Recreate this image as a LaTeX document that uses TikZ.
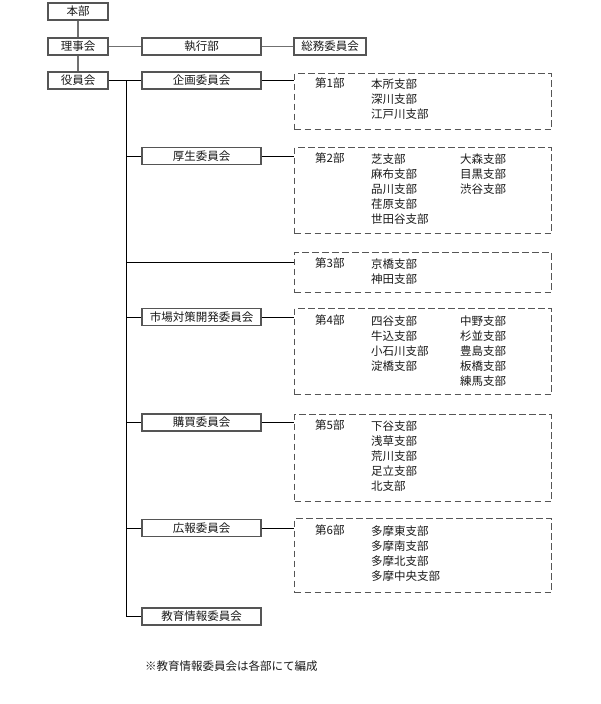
\documentclass[tikz,border=0pt]{standalone}
\usepackage{fontspec}
\setmainfont{Noto Sans CJK JP}
\definecolor{boxgray}{HTML}{555555}
\definecolor{linegray}{HTML}{707070}
\definecolor{txt}{HTML}{1A1A1A}
\begin{document}
\begin{tikzpicture}[x=1pt,y=-1pt,
  every node/.style={font=\fontsize{11.5}{15}\selectfont, text=txt},
  org/.style={draw=boxgray, line width=1.4pt, minimum height=17pt, inner sep=0pt, fill=white},
  dbox/.style={draw=boxgray, line width=1.3pt, dash pattern=on 6.5pt off 3.5pt, inner sep=0pt, anchor=north west},
  toplink/.style={draw=linegray, line width=1.8pt},
  link/.style={draw=black, line width=1pt},
  lbl/.style={anchor=west, inner sep=0pt},
  col/.style={anchor=north west, inner sep=0pt, align=left}
]
\useasboundingbox (0,0) rectangle (600,704);

% top level
\node[org, minimum width=60pt]  (honbu)  at (78,11.5) {本部};
\node[org, minimum width=60pt]  (riji)   at (78,46.5) {理事会};
\node[org, minimum width=119pt] (shikko) at (201.5,46.5) {執行部};
\node[org, minimum width=72pt]  (somu)   at (330,46.5) {総務委員会};
\node[org, minimum width=60pt]  (yakuin) at (78,80.5) {役員会};

\draw[toplink] (honbu.south) -- (riji.north);
\draw[toplink] (riji.south) -- (yakuin.north);
\draw[toplink] (riji.east) -- (shikko.west);
\draw[toplink] (shikko.east) -- (somu.west);

% committees
\node[org, minimum width=119pt] (kikaku) at (201.5,80.5) {企画委員会};
\node[org, minimum width=119pt] (kosei)  at (201.5,156) {厚生委員会};
\node[org, minimum width=119pt] (shijo)  at (201.5,317) {市場対策開発委員会};
\node[org, minimum width=119pt] (kobai)  at (201.5,422.5) {購買委員会};
\node[org, minimum width=119pt] (koho)   at (201.5,528) {広報委員会};
\node[org, minimum width=119pt] (kyoiku) at (201.5,616.5) {教育情報委員会};

% dashed district boxes
\node[dbox, minimum width=257pt, minimum height=56pt] (d1) at (294,73) {};
\node[dbox, minimum width=257pt, minimum height=86pt] (d2) at (294,147) {};
\node[dbox, minimum width=257pt, minimum height=40pt] (d3) at (294,252) {};
\node[dbox, minimum width=257pt, minimum height=86pt] (d4) at (294,308) {};
\node[dbox, minimum width=257pt, minimum height=87pt] (d5) at (294,414) {};
\node[dbox, minimum width=257pt, minimum height=74pt] (d6) at (294,518) {};

% trunk
\coordinate (trunk) at (126,0);
\coordinate (c3) at (126,262);
\draw[link] (yakuin.east) -- (kikaku.west);
\draw[link] (trunk |- yakuin.east) -- (trunk |- kyoiku.west);
\draw[link] (trunk |- kosei.west) -- (kosei.west);
\draw[link] (trunk |- shijo.west) -- (shijo.west);
\draw[link] (trunk |- kobai.west) -- (kobai.west);
\draw[link] (trunk |- koho.west) -- (koho.west);
\draw[link] (trunk |- kyoiku.west) -- (kyoiku.west);
\draw[link] (c3) -- (c3 -| d3.west);

\draw[link] (kikaku.east) -- (kikaku.east -| d1.west);
\draw[link] (kosei.east) -- (kosei.east -| d2.west);
\draw[link] (shijo.east) -- (shijo.east -| d4.west);
\draw[link] (kobai.east) -- (kobai.east -| d5.west);
\draw[link] (koho.east) -- (koho.east -| d6.west);

% district texts
\node[lbl] (l1) at (315,83.5) {第1部};
\node[col] (a1) at (371,78.5) {本所支部\\深川支部\\江戸川支部};

\node[lbl] (l2) at (315,158.5) {第2部};
\node[col] (a2) at (371,153.5) {芝支部\\麻布支部\\品川支部\\荏原支部\\世田谷支部};
\node[col] (b2) at (460,153.5) {大森支部\\目黒支部\\渋谷支部};

\node[lbl] (l3) at (315,263.5) {第3部};
\node[col] (a3) at (371,258.5) {京橋支部\\神田支部};

\node[lbl] (l4) at (315,320.5) {第4部};
\node[col] (a4) at (371,315.5) {四谷支部\\牛込支部\\小石川支部\\淀橋支部};
\node[col] (b4) at (460,315.5) {中野支部\\杉並支部\\豊島支部\\板橋支部\\練馬支部};

\node[lbl] (l5) at (315,425.5) {第5部};
\node[col] (a5) at (371,420.5) {下谷支部\\浅草支部\\荒川支部\\足立支部\\北支部};

\node[lbl] (l6) at (315,530.5) {第6部};
\node[col] (a6) at (371,525.5) {多摩東支部\\多摩南支部\\多摩北支部\\多摩中央支部};

% footnote
\node[lbl] (note) at (145,666) {※教育情報委員会は各部にて編成};
\end{tikzpicture}
\end{document}
